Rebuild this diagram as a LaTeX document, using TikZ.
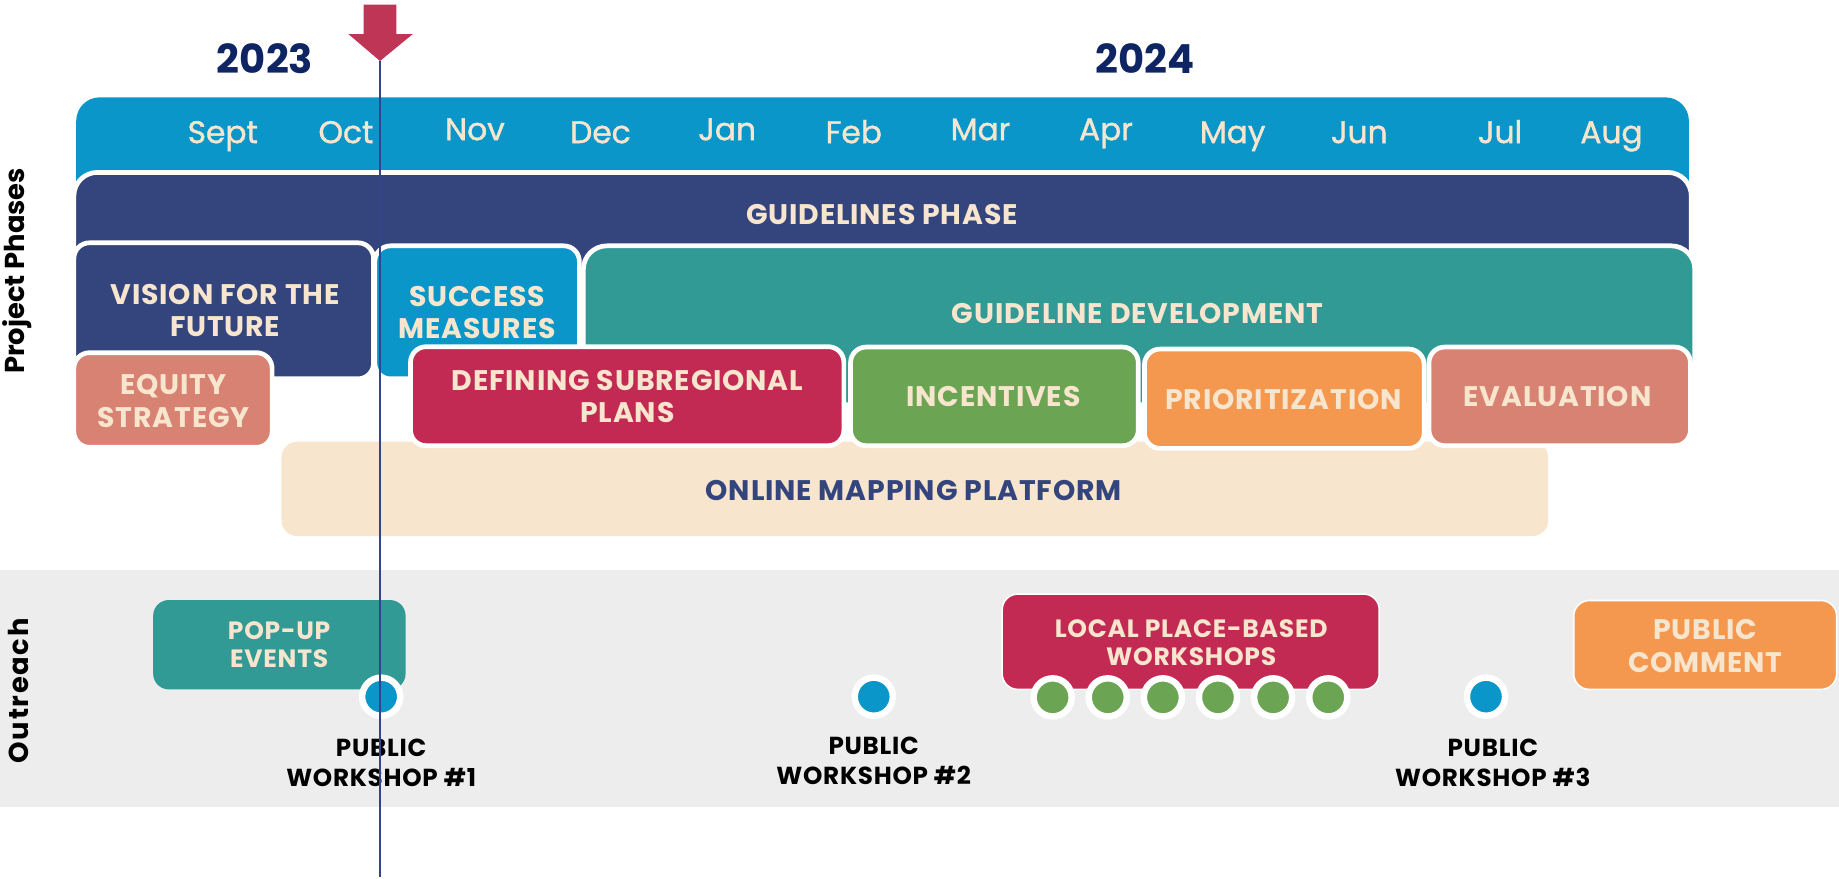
\documentclass[tikz,border=0pt]{standalone}
\usepackage{fontspec}
\setmainfont{Poppins}
\newfontfamily\tagfont{Poppins}[LetterSpace=3]
\newfontfamily\monthfont{Poppins}[FakeBold=1.2]
\newfontfamily\sidefont{Poppins}[LetterSpace=6]
\usetikzlibrary{positioning}

\definecolor{skyblue}{RGB}{11,150,201}
\definecolor{phnavy}{RGB}{52,69,125}
\definecolor{phteal}{RGB}{49,154,149}
\definecolor{phsalmon}{RGB}{215,130,114}
\definecolor{phcrimson}{RGB}{194,42,83}
\definecolor{phgreen}{RGB}{107,165,83}
\definecolor{phorange}{RGB}{245,152,79}
\definecolor{cream}{RGB}{248,229,205}
\definecolor{bandgray}{RGB}{237,237,237}
\definecolor{yearblue}{RGB}{14,36,99}
\definecolor{marker}{RGB}{190,53,86}
\definecolor{todayline}{RGB}{52,68,140}

\tikzset{
  bar/.style={fill=#1, rounded corners=12pt},
  phasebar/.style={fill=#1, draw=white, line width=2.4pt, rounded corners=12pt},
  phasebox/.style={fill=#1, draw=white, line width=2.4pt, rounded corners=8pt},
  eventbox/.style={fill=#1, draw=white, line width=0.8pt, rounded corners=8pt},
  tag/.style={font=\tagfont\bfseries\fontsize{14.5}{16.5}\selectfont, text=cream, align=center, inner sep=0pt},
  smalltag/.style={tag, font=\tagfont\bfseries\fontsize{12.8}{14.3}\selectfont},
  month/.style={font=\monthfont\fontsize{16}{18}\selectfont, text=cream, anchor=base, inner sep=0pt},
  year/.style={font=\bfseries\fontsize{20.5}{22}\selectfont, text=yearblue, anchor=base, inner sep=0pt},
  side/.style={font=\bfseries\fontsize{14}{16}\selectfont, rotate=90, inner sep=0pt},
  wsdot/.style={circle, fill=#1, draw=white, line width=3.3pt, minimum size=19.5pt, inner sep=0pt},
  wslabel/.style={font=\tagfont\bfseries\fontsize{12.6}{15.4}\selectfont, align=center, inner sep=0pt},
}

\begin{document}
\begin{tikzpicture}[x=0.6pt, y=-0.6pt]
\useasboundingbox (0,0) rectangle (1568,749);
%\draw[help lines, gray, step=50] (0,0) grid (1568,749);

% years and months
\node[year] (yr23) at (226,63) {2023};
\node[year] (yr24) at (976,63) {2024};
\fill[bar=skyblue] (65,83) rectangle (1440,200);
\foreach \m/\x/\y in {Sept/190/122, Oct/295/122, Nov/405/119.5, Dec/512/122, Jan/620/119.5, Feb/728/122,
  Mar/836/119.5, Apr/943/119.5, May/1051/122, Jun/1159/122, Jul/1279/122, Aug/1374/122}
  \node[month] (m\m) at (\x,\y) {\m};

% project phases
\path[phasebar=phnavy] (63,147) rectangle (1442,260);
\node[tag] (guide) at (752,183) {GUIDELINES PHASE};
\path[phasebox=phnavy] (63,207) rectangle (318.5,323);
\node[tag] (vision) at (192,265) {VISION FOR THE\\FUTURE};
\path[phasebox=skyblue] (319.6,209.6) rectangle (494,323);
\node[tag] (success) at (407,266.5) {SUCCESS\\MEASURES};
\path[phasebar=phteal] (497.4,209.6) rectangle (1445,345);
\node[tag] (develop) at (970,267) {GUIDELINE DEVELOPMENT};
\fill[bar=cream, rounded corners=8pt] (240,376.6) rectangle (1320,457);
\node[tag, text=phnavy] (mapping) at (779,418) {ONLINE MAPPING PLATFORM};
\path[phasebox=phsalmon] (63,300.7) rectangle (232,381.4);
\node[tag] (equity) at (148,342) {EQUITY\\STRATEGY};
\path[phasebox=phcrimson] (350,295.6) rectangle (719.5,380);
\node[tag] (subreg) at (535,338.3) {DEFINING SUBREGIONAL\\PLANS};
\path[phasebox=phgreen] (725.2,295.9) rectangle (970.5,380);
\node[tag] (incent) at (847,338) {INCENTIVES};
\path[phasebox=phorange] (975.8,297.6) rectangle (1214.3,382.3);
\node[tag] (prior) at (1094.4,340.2) {PRIORITIZATION};
\path[phasebox=phsalmon] (1218.4,295.9) rectangle (1441.3,380);
\node[tag] (evalu) at (1328,338) {EVALUATION};

% outreach
\fill[bandgray] (0,486) rectangle (1568,688);
\fill[bar=phteal, rounded corners=8pt] (130.6,511.6) rectangle (345.8,587.8);
\node[smalltag] (popup) at (238,550) {POP-UP\\EVENTS};
\path[eventbox=phcrimson] (854.5,506.5) rectangle (1176,587.8);
\node[smalltag] (local) at (1015.6,548) {LOCAL PLACE-BASED\\WORKSHOPS};
\path[eventbox=phorange] (1341.8,512) rectangle (1566,587.8);
\node[tag] (comment) at (1454,550.8) {PUBLIC\\COMMENT};
\foreach \i in {0,...,5}
  \node[wsdot=phgreen] (lw\i) at (897.5+47*\i,594.6) {};
\node[wsdot=skyblue] (ws1) at (325,594) {};
\node[wsdot=skyblue] (ws2) at (745,594) {};
\node[wsdot=skyblue] (ws3) at (1267,594) {};
\node[wslabel, below=10pt of ws1] (ws1txt) {PUBLIC\\WORKSHOP \#1};
\node[wslabel, below=9pt of ws2] (ws2txt) {PUBLIC\\WORKSHOP \#2};
\node[wslabel, below=10pt of ws3, xshift=3.5pt] (ws3txt) {PUBLIC\\WORKSHOP \#3};

\node[side] (phases) at (15,231) {Project Phases};
\node[side, font=\sidefont\bfseries\fontsize{14}{16}\selectfont] (outreach) at (16,589) {Outreach};

% today marker
\coordinate (tip) at (324,52);
\coordinate (lineend) at (324,748);
\fill[marker] (310,4) -- (338,4) -- (338,29) -- (352,29) -- (tip) -- (297,29) -- (310,29) -- cycle;
\draw[todayline, line width=0.8pt] (tip) -- (lineend);
\end{tikzpicture}
\end{document}
